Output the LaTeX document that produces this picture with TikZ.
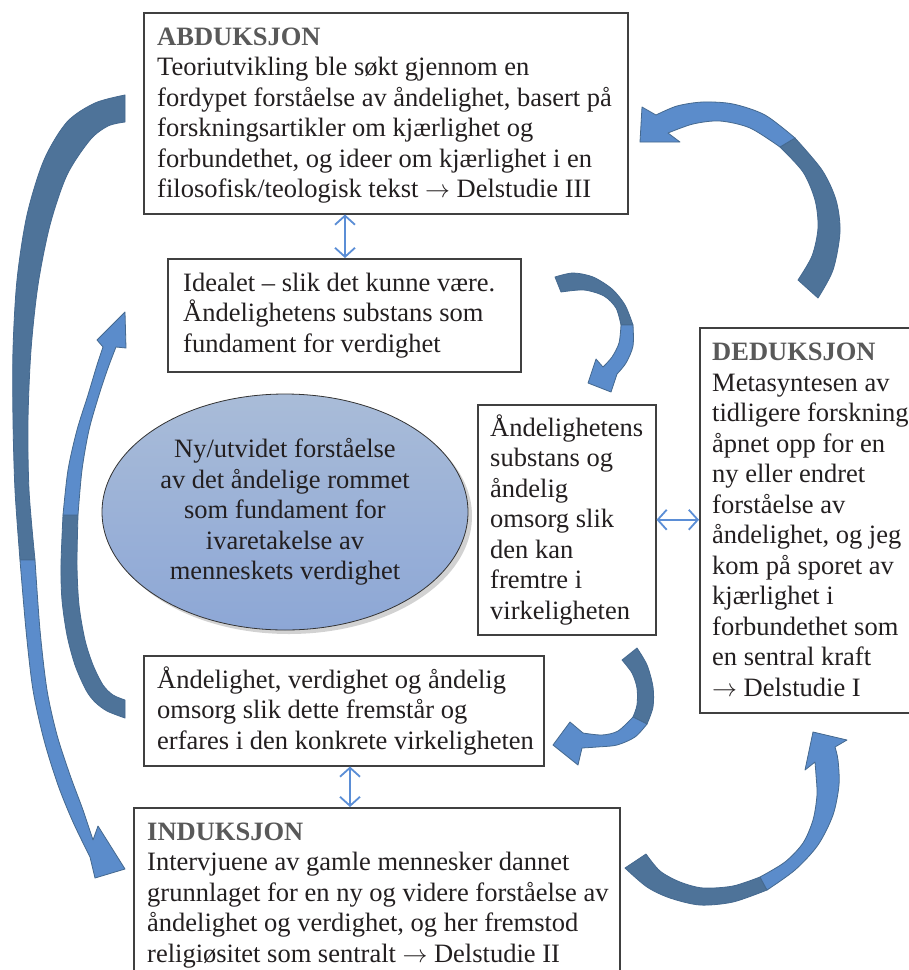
\documentclass[tikz,border=0pt]{standalone}
\usepackage{fontspec}
\setmainfont{Liberation Serif}
\usetikzlibrary{arrows.meta,shadows,shapes.geometric,calc}
\definecolor{txt}{HTML}{231F20}
\definecolor{headc}{HTML}{595959}
\definecolor{boxline}{HTML}{404040}
\definecolor{adark}{HTML}{4E7399}
\definecolor{alight}{HTML}{5B8CCB}
\definecolor{aline}{HTML}{45698F}
\definecolor{dblc}{HTML}{5B8ED6}
\definecolor{elltop}{HTML}{A9BCD8}
\definecolor{ellbot}{HTML}{8DA7D6}
\tikzset{
 box/.style={draw=boxline, line width=1.5pt, fill=white, anchor=north west, inner sep=0pt},
 txtnode/.style={anchor=base west, align=left, inner sep=0pt, text=txt, font=\fontsize{26.5}{30.5}\selectfont},
 dbl/.style={draw=dblc, line width=1.8pt, {Straight Barb[length=9pt,width=20pt]}-{Straight Barb[length=9pt,width=20pt]}},
 darkpart/.style={fill=adark, draw=aline, line width=0.8pt, line join=round},
 lightpart/.style={fill=alight, draw=aline, line width=0.8pt, line join=round},
}
\newcommand{\hd}[1]{\textcolor{headc}{\textbf{#1}}}
\newcommand{\ar}{\ensuremath{\rightarrow}}
\begin{document}
\begin{tikzpicture}[x=1pt,y=-1pt]
\useasboundingbox (0,0) rectangle (909,970);
\fill[white] (0,0) rectangle (909,970);
% boxes
\node[box, minimum width=484pt, minimum height=201pt] (abd) at (143,12) {};
\node[box, minimum width=353pt, minimum height=113pt] (ideal) at (167,258) {};
\node[box, minimum width=178pt, minimum height=230pt] (mid) at (477,404) {};
\node[box, minimum width=240pt, minimum height=385pt] (ded) at (699,327) {};
\node[box, minimum width=400pt, minimum height=110pt] (low) at (143,655) {};
\node[box, minimum width=486pt, minimum height=200pt] (ind) at (133,807) {};
% texts (anchored at the baseline of their last line)
\node[txtnode] (abdt) at (157,197.5) {\hd{ABDUKSJON}\\Teoriutvikling ble søkt gjennom en\\fordypet forståelse av åndelighet, basert på\\forskningsartikler om kjærlighet og\\forbundethet, og ideer om kjærlighet i en\\filosofisk/teologisk tekst \ar{} Delstudie III};
\node[txtnode] (idealt) at (183,352) {Idealet – slik det kunne være.\\Åndelighetens substans som\\fundament for verdighet};
\node[txtnode] (midt) at (490,619) {Åndelighetens\\substans og\\åndelig\\omsorg slik\\den kan\\fremtre i\\virkeligheten};
\node[txtnode] (dedt) at (712,696) {\hd{DEDUKSJON}\\Metasyntesen av\\tidligere forskning\\åpnet opp for en\\ny eller endret\\forståelse av\\åndelighet, og jeg\\kom på sporet av\\kjærlighet i\\forbundethet som\\en sentral kraft\\\ar{} Delstudie I};
\node[txtnode] (lowt) at (157,749) {Åndelighet, verdighet og åndelig\\omsorg slik dette fremstår og\\erfares i den konkrete virkeligheten};
\node[txtnode] (indt) at (147,962) {\hd{INDUKSJON}\\Intervjuene av gamle mennesker dannet\\grunnlaget for en ny og videre forståelse av\\åndelighet og verdighet, og her fremstod\\religiøsitet som sentralt \ar{} Delstudie II};
% ellipse
\node[ellipse, minimum width=366pt, minimum height=236pt, draw=black!80, line width=0.8pt,
  top color=elltop, bottom color=ellbot,
  drop shadow={shadow xshift=4pt, shadow yshift=-4pt, opacity=0.35}] (ell) at (285,512) {};
\node[txtnode, anchor=center, align=center] (ellt) at (285,512) {Ny/utvidet forståelse\\av det åndelige rommet\\som fundament for\\ivaretakelse av\\menneskets verdighet};
% double arrows
\coordinate (xa) at (345,0);
\coordinate (xb) at (350,0);
\draw[dbl] (xa |- abd.south) -- (xa |- ideal.north);
\draw[dbl] (mid.east) -- (mid.east -| ded.west);
\draw[dbl] (xb |- low.south) -- (xb |- ind.north);
% curved arrow 1 (outer left, ABDUKSJON -> INDUKSJON)
\filldraw[darkpart] plot[smooth] coordinates {(125,95)(95,103)(67,122)(44,160)(27,215)(17,280)(13,350)(13,420)(15,490)(20,560)}
  -- plot[smooth] coordinates {(35,560)(29,490)(28,420)(31,350)(38,285)(50,225)(67,175)(90,140)(108,126)(125,122)} -- cycle;
\filldraw[lightpart] plot[smooth] coordinates {(20,560)(26,630)(33,690)(44,740)(58,785)(73,822)(90,857)}
  -- (95,878) -- (125,869) -- (98,826) -- plot[smooth] coordinates {(93,840)(83,810)(70,775)(57,735)(47,690)(40,630)(35,560)} -- cycle;
% curved arrow 2 (inner left, lower box -> Idealet)
\filldraw[darkpart] plot[smooth] coordinates {(125,718)(107,711)(95,702)(86,690)(75,665)(67,635)(62,600)(61,565)(63,515)}
  -- plot[smooth] coordinates {(78,515)(77,565)(79,605)(85,640)(93,665)(103,685)(113,695)(125,700)} -- cycle;
\filldraw[lightpart] plot[smooth] coordinates {(63,515)(68,470)(77,430)(88,395)(97,365)(103,347)}
  -- (97,340) -- (125,312) -- (126,348) -- plot[smooth] coordinates {(116,347)(108,368)(99,395)(89,430)(82,470)(78,515)} -- cycle;
% curved arrow 3 (DEDUKSJON -> ABDUKSJON)
\filldraw[darkpart] plot[smooth] coordinates {(818,298)(833,270)(840,232)(836,200)(822,170)(795,138)}
  -- plot[smooth] coordinates {(780,147)(803,172)(815,200)(818,228)(812,256)(798,280)} -- cycle;
\filldraw[lightpart] plot[smooth] coordinates {(795,138)(765,115)(733,104)(703,102)(677,106)(656,115)}
  -- (642,107) -- (640,142) -- (680,142) -- plot[smooth] coordinates {(668,133)(693,124)(720,121)(750,128)(780,147)} -- cycle;
% curved arrow 4 (Idealet -> middle box)
\filldraw[darkpart] plot[smooth] coordinates {(555,277)(573,273)(593,277)(612,289)(625,305)(633,325)}
  -- plot[smooth] coordinates {(621,325)(616,308)(604,296)(584,290)(561,292)} -- cycle;
\filldraw[lightpart] plot[smooth] coordinates {(633,325)(633,346)(626,363)(617,374)}
  -- (611,392) -- (588,383) -- (596,359) -- plot[smooth] coordinates {(603,367)(612,357)(619,343)(621,325)} -- cycle;
% curved arrow 5 (middle box -> lower box)
\filldraw[darkpart] plot[smooth] coordinates {(637,648)(647,665)(653,687)(653,707)(647,724)}
  -- plot[smooth] coordinates {(633,717)(637,705)(637,688)(632,673)(622,660)} -- cycle;
\filldraw[lightpart] plot[smooth] coordinates {(647,724)(635,737)(617,745)(597,747)(582,748)}
  -- (578,765) -- (553,745) -- (570,722) -- plot[smooth] coordinates {(583,733)(602,735)(618,731)(633,717)} -- cycle;
% curved arrow 6 (INDUKSJON -> DEDUKSJON)
\filldraw[darkpart] plot[smooth] coordinates {(625,868)(647,887)(670,898)(700,905)(733,902)(767,890)}
  -- plot[smooth] coordinates {(760,877)(733,886)(703,888)(680,882)(660,871)(646,854)} -- cycle;
\filldraw[lightpart] plot[smooth] coordinates {(767,890)(795,870)(818,845)(833,815)(839,785)(838,760)(835,747)}
  -- (847,740) -- (813,732) -- (805,770) -- plot[smooth] coordinates {(815,762)(816,775)(817,795)(813,820)(803,843)(785,862)(760,877)} -- cycle;
\end{tikzpicture}
\end{document}
